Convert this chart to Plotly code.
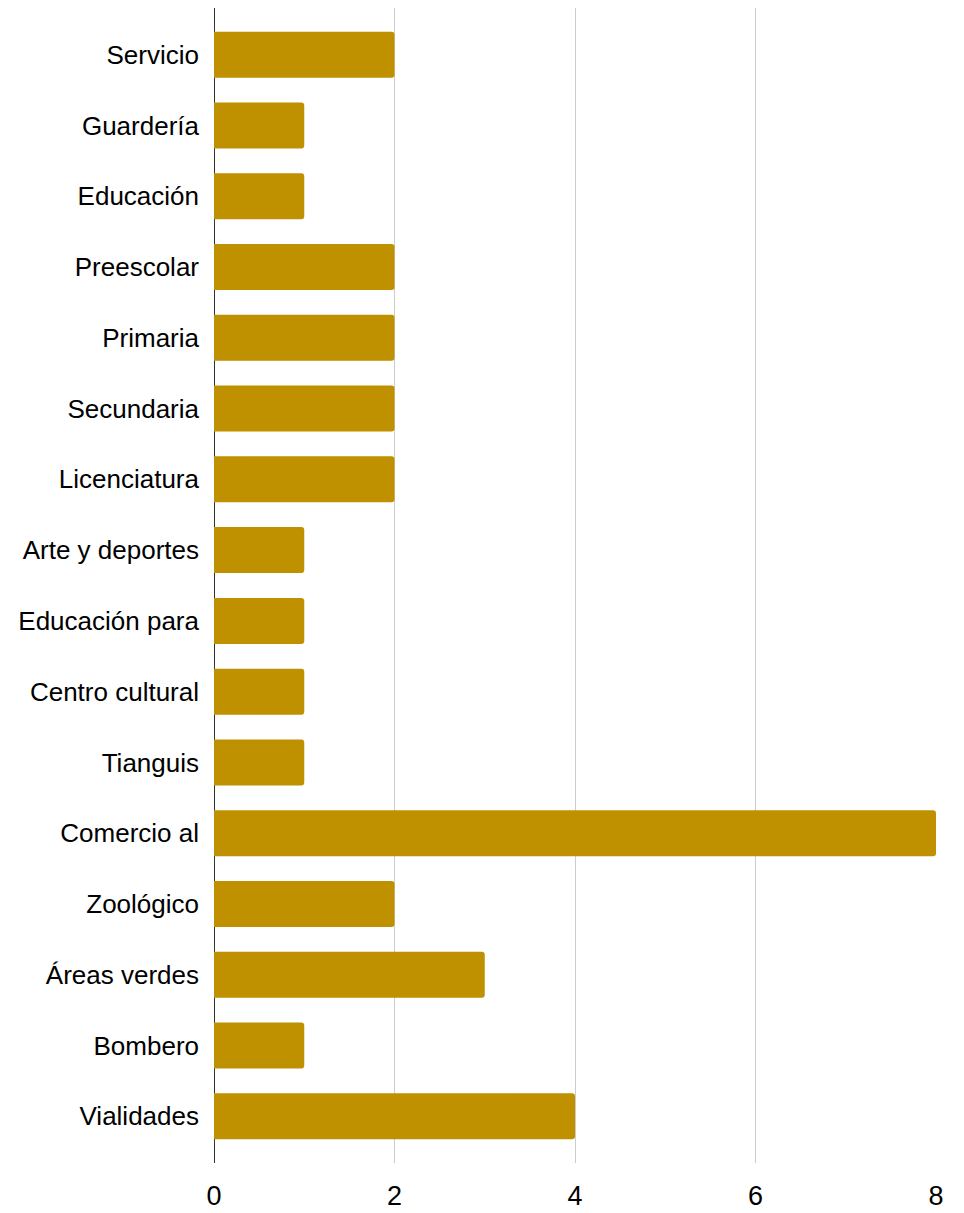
import plotly.graph_objects as go

categories = ["Servicio", "Guardería", "Educación", "Preescolar", "Primaria", "Secundaria",
              "Licenciatura", "Arte y deportes", "Educación para", "Centro cultural", "Tianguis",
              "Comercio al", "Zoológico", "Áreas verdes", "Bombero", "Vialidades"]
values = [2, 1, 1, 2, 2, 2, 2, 1, 1, 1, 1, 8, 2, 3, 1, 4]
x_ticks = [0, 2, 4, 6, 8]

fig = go.Figure(go.Bar(
    x=values, y=categories, orientation="h",
    marker=dict(color="#BF9000", line=dict(width=0), cornerradius=3),
    width=0.65,
))

fig.update_layout(
    width=956, height=1205,
    margin=dict(l=206, r=28, t=0, b=50),
    paper_bgcolor="white", plot_bgcolor="white",
    font=dict(family="Liberation Sans, Arial", size=26, color="#000000"),
    showlegend=False,
)
fig.update_yaxes(
    categoryorder="array", categoryarray=categories,
    autorange=False, range=[15.66, -0.66],
    showgrid=False, ticks="", ticklabelstandoff=14,
    showline=False, zeroline=False, automargin=False,
)
fig.update_xaxes(
    range=[0, 8], tickvals=x_ticks, ticktext=[str(v) for v in x_ticks],
    showgrid=True, gridcolor="#cccccc", gridwidth=1,
    zeroline=True, zerolinecolor="#333333", zerolinewidth=1,
    showline=False, ticks="", ticklabelstandoff=14, automargin=False,
    tickfont=dict(size=27),
)

fig.write_html("out.html")
